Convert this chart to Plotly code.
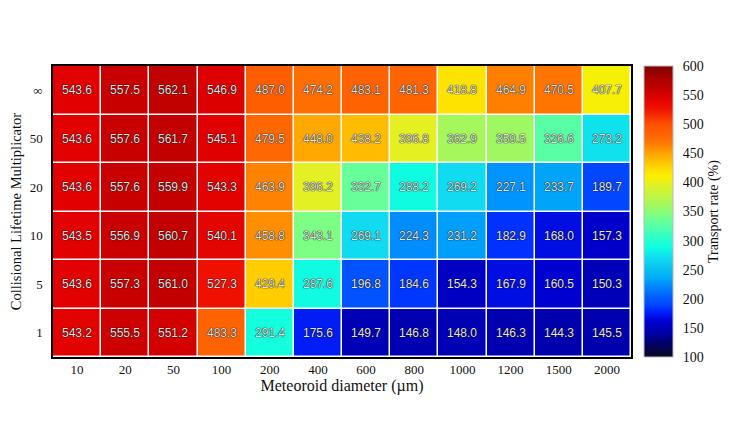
import plotly.graph_objects as go

# Meteoroid diameters (x) and collisional lifetime multipliers (y, bottom -> top)
diameters = ["10", "20", "50", "100", "200", "400", "600", "800", "1000", "1200", "1500", "2000"]
multipliers = ["1", "5", "10", "20", "50", "∞"]

# Transport rate (%) per multiplier row
rate_1 = [543.2, 555.5, 551.2, 483.3, 291.4, 175.6, 149.7, 146.8, 148.0, 146.3, 144.3, 145.5]
rate_5 = [543.6, 557.3, 561.0, 527.3, 429.4, 287.6, 196.8, 184.6, 154.3, 167.9, 160.5, 150.3]
rate_10 = [543.5, 556.9, 560.7, 540.1, 458.8, 343.1, 269.1, 224.3, 231.2, 182.9, 168.0, 157.3]
rate_20 = [543.6, 557.6, 559.9, 543.3, 463.9, 396.2, 332.7, 288.2, 269.2, 227.1, 233.7, 189.7]
rate_50 = [543.6, 557.6, 561.7, 545.1, 479.5, 448.0, 438.2, 396.8, 362.9, 359.5, 326.6, 273.2]
rate_inf = [543.6, 557.5, 562.1, 546.9, 487.0, 474.2, 483.1, 481.3, 418.8, 464.9, 470.5, 407.7]

z = [rate_1, rate_5, rate_10, rate_20, rate_50, rate_inf]

zmin, zmax = 100, 600

# jet-like palette with dark ends
stops = [
    (100, "#0a0a22"), (125, "#00006c"), (140, "#0000a4"), (150, "#0000b8"),
    (160, "#0000d0"), (170, "#0010e8"), (180, "#0028ff"), (190, "#0048ff"),
    (200, "#0058ff"), (225, "#0090ff"), (235, "#00a8f8"), (250, "#08c0f0"),
    (270, "#10dcf0"), (290, "#10ffe0"), (330, "#60ffa0"), (345, "#80ff80"),
    (360, "#a0f860"), (398, "#e6f020"), (410, "#f8f000"), (420, "#ffe000"),
    (430, "#ffcc00"), (440, "#ffb800"), (450, "#ffa400"), (465, "#ff8000"),
    (475, "#ff6c00"), (485, "#ff6000"), (500, "#ff5000"), (527, "#f01000"),
    (545, "#e00000"), (560, "#c40000"), (580, "#a80000"), (600, "#800000"),
]
colorscale = [[(v - zmin) / (zmax - zmin), c] for v, c in stops]

serif = "Liberation Serif, Times New Roman, serif"

fig = go.Figure(go.Heatmap(
    x=diameters,
    y=multipliers,
    z=z,
    zmin=zmin,
    zmax=zmax,
    colorscale=colorscale,
    xgap=1.5,
    ygap=1.5,
    texttemplate="%{z:.1f}",
    textfont=dict(family="Liberation Sans, Arial, sans-serif", size=12, color="#e4e4e4",
                  shadow="0px 0px 1px #000, 0px 0px 1px #000"),
    colorbar=dict(
        x=1.0225, xanchor="left", xpad=0,
        y=0.5, yanchor="middle", ypad=0,
        len=1, thickness=29,
        outlinewidth=1, outlinecolor="#bbbbbb",
        tickvals=list(range(100, 601, 50)),
        # invisible outside ticks just to push the labels away from the bar
        ticks="outside", ticklen=7, tickcolor="rgba(0,0,0,0)",
        tickfont=dict(family=serif, size=14, color="#111111"),
        title=dict(text="Transport rate (%)", side="right",
                   font=dict(family=serif, size=14, color="#111111")),
    ),
))

# page body adds ~7px offset, so margins are trimmed on left/top
fig.update_layout(
    width=747,
    height=448,
    margin=dict(l=45, r=124, t=58, b=99, autoexpand=False),
    paper_bgcolor="white",
    plot_bgcolor="white",
    font=dict(family=serif, size=13, color="#111111"),
)
fig.update_xaxes(
    title=dict(text="Meteoroid diameter (µm)", standoff=2),
    showline=True, linecolor="black", linewidth=1.5, mirror=True,
    ticks="", showgrid=False,
)
fig.update_yaxes(
    title=dict(text="Collisional Lifetime Multiplicator", standoff=13,
               font=dict(family=serif, size=14.5)),
    showline=True, linecolor="black", linewidth=1.5, mirror=True,
    ticks="", showgrid=False, ticklabelstandoff=6,
)

fig.write_html("out.html")
